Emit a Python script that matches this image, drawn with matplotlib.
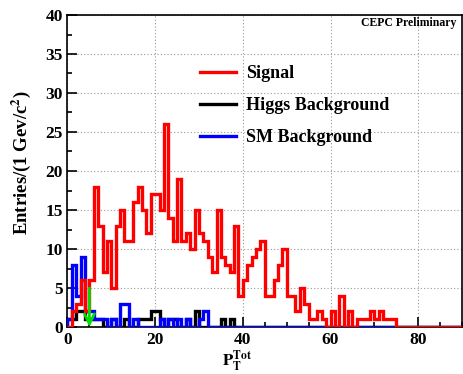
import numpy as np
import matplotlib.pyplot as plt
from matplotlib.lines import Line2D

plt.rcParams['font.family'] = ['Liberation Serif', 'DejaVu Serif']
plt.rcParams['font.weight'] = 'bold'
plt.rcParams['mathtext.fontset'] = 'stix'

# 1 GeV bins from 0 to 90
edges = np.arange(0, 91, 1)

signal = [0, 2, 3, 6, 2, 6, 18, 13, 7, 11,
          5, 13, 15, 11, 11, 16, 18, 15, 12, 17,
          17, 15, 26, 14, 11, 19, 11, 12, 10, 15,
          12, 11, 9, 7, 15, 9, 8, 7, 13, 4,
          6, 8, 9, 10, 11, 4, 4, 6, 8, 10,
          4, 4, 2, 5, 3, 1, 1, 2, 1, 0,
          2, 0, 4, 0, 2, 0, 1, 1, 1, 2,
          1, 2, 1, 1, 1] + [0] * 15

higgs_bkg = [1, 1, 2, 2, 1, 1, 1, 1, 0, 0,
             1, 0, 0, 1, 0, 0, 1, 1, 1, 2,
             2, 1, 0, 1, 1, 0, 0, 1, 0, 2,
             0, 0, 0, 0, 0, 1, 0, 1] + [0] * 52

sm_bkg = [1, 8, 4, 9, 2, 2, 1, 1, 1, 0,
          1, 0, 3, 3, 0, 1, 0, 0, 0, 0,
          0, 1, 0, 1, 0, 1, 0, 1, 0, 0,
          1, 2] + [0] * 58

# cut position shown by the arrow
cut_x = 5
cut_top = 5

fig = plt.figure(figsize=(4.64, 3.74), dpi=100)
ax = fig.add_axes([67.5 / 464, 47 / 374, 394.5 / 464, 312 / 374])

ax.stairs(higgs_bkg, edges, color='black', lw=2.4, zorder=3)
ax.stairs(sm_bkg, edges, color='blue', lw=2.4, zorder=4)
ax.stairs(signal, edges, color='red', lw=2.4, zorder=5)

ax.annotate('', xy=(cut_x, 0), xytext=(cut_x, cut_top),
            arrowprops=dict(arrowstyle='->', color='#00e000', lw=2,
                            mutation_scale=18, shrinkA=0, shrinkB=0),
            zorder=6)

ax.set_xlim(0, 90)
ax.set_ylim(0, 40)
ax.set_xticks([0, 20, 40, 60, 80])
ax.set_xticks(np.arange(0, 91, 5), minor=True)
ax.set_yticks(np.arange(0, 41, 5))
ax.set_yticks(np.arange(0, 41, 2.5), minor=True)
ax.tick_params(which='both', direction='in', top=False, right=False,
               labelsize=12.5, width=1.2)
ax.tick_params(axis='x', pad=3.5)
ax.tick_params(which='major', length=7)
ax.tick_params(which='minor', length=3.5)
ax.grid(True, which='major', color='#999999', linestyle=(0, (1, 2)), lw=0.8)
ax.set_axisbelow(True)
for s in ax.spines.values():
    s.set_linewidth(1.2)

ax.set_ylabel(r'Entries/(1 Gev/c$^{\mathbf{2}}$)', fontsize=13.5,
              fontweight='bold')
ax.yaxis.set_label_coords(-0.087, 0.526)
ax.set_xlabel(r'$\mathbf{P}_{\mathbf{T}}^{\mathbf{Tot}}$', fontsize=12)
ax.xaxis.set_label_coords(0.43, -0.068)

ax.text(0.985, 0.993, 'CEPC Preliminary', transform=ax.transAxes,
        ha='right', va='top', fontsize=8.5, fontweight='bold')

handles = [Line2D([], [], color='red', lw=2.4),
           Line2D([], [], color='black', lw=2.4),
           Line2D([], [], color='blue', lw=2.4)]
labels = ['Signal', 'Higgs Background', 'SM Background']
ax.legend(handles, labels, loc='upper left', bbox_to_anchor=(0.337, 0.84),
          frameon=False, fontsize=13, handlelength=1.95, handletextpad=0.55,
          labelspacing=0.83, borderpad=0, borderaxespad=0)

fig.savefig('out.png', dpi=100)
